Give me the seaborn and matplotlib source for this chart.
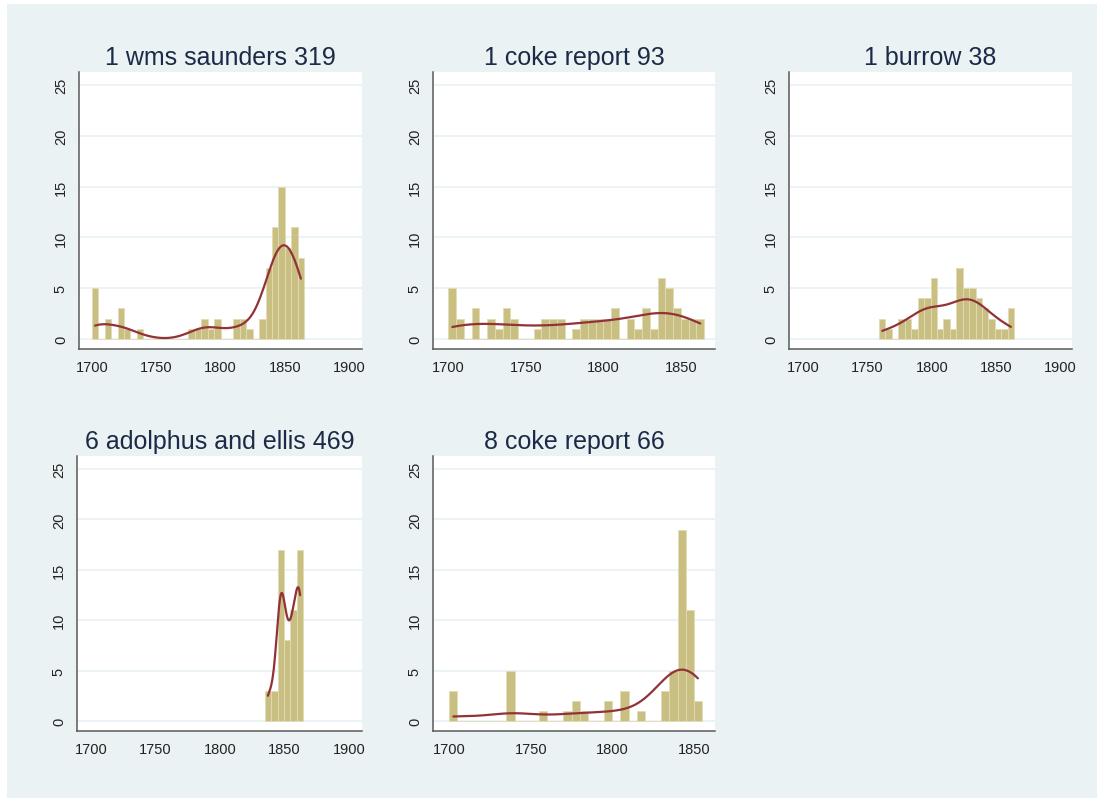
import numpy as np
import pandas as pd
import matplotlib
matplotlib.use('Agg')
import matplotlib.pyplot as plt
from matplotlib.patches import Rectangle
import seaborn as sns

# panel titles
titles = ['1 wms saunders 319', '1 coke report 93', '1 burrow 38',
          '6 adolphus and ellis 469', '8 coke report 66']

# 5 year bins, heights (percent)
saunders_start = 1700
saunders_pct = [5, 0, 2, 0, 3, 1, 0, 1, 0, 0, 0, 0, 0, 0, 0, 1, 1, 2, 1, 2,
                0, 0, 2, 2, 1, 0, 2, 7, 11, 15, 9, 11, 8]
coke1_start = 1700
coke1_pct = [5, 2, 0, 3, 0, 2, 1, 3, 2, 0, 0, 1, 2, 2, 2, 0, 1, 2, 2, 2,
             2, 3, 0, 2, 1, 3, 1, 6, 5, 3, 2, 2, 2]
burrow_start = 1759
burrow_pct = [2, 1, 0, 2, 2, 1, 4, 4, 6, 1, 2, 1, 7, 5, 5, 4, 3, 2, 1, 1, 3]
adolphus_start = 1834.5
adolphus_pct = [3, 3, 17, 8, 11, 17]
coke8_start = 1700
coke8_pct = [3, 0, 0, 0, 0, 0, 0, 5, 0, 0, 0, 1, 0, 0, 1, 2, 1, 0, 0, 2,
             0, 3, 0, 1, 0, 0, 3, 5, 19, 11, 2]

bin_width = 5
starts = [saunders_start, coke1_start, burrow_start, adolphus_start, coke8_start]
heights = [saunders_pct, coke1_pct, burrow_pct, adolphus_pct, coke8_pct]

# axis ranges / ticks
xlims = [(1690, 1910), (1690, 1872), (1689, 1909), (1689, 1910), (1690, 1863)]
xticks = [[1700, 1750, 1800, 1850, 1900], [1700, 1750, 1800, 1850],
          [1700, 1750, 1800, 1850, 1900], [1700, 1750, 1800, 1850, 1900],
          [1700, 1750, 1800, 1850]]
yticks = [0, 5, 10, 15, 20, 25]

# smoothing of the kernel density line per panel
bw_adjusts = [0.33, 0.65, 0.8, 0.52, 0.46]

# axes positions in pixels: left, top, right, bottom
W, H = 1104, 804
boxes = [(79, 73, 362, 350), (433, 73, 715, 350), (789, 73, 1072, 350),
         (77, 457, 362, 732), (433, 457, 715, 732)]

bar_color = '#C9BF83'
line_color = '#913238'
title_color = '#1C2A48'
bg_color = '#EAF2F3'

sns.set_style('white')
plt.rcParams['font.family'] = ['Liberation Sans', 'DejaVu Sans']

fig = plt.figure(figsize=(W / 100, H / 100), dpi=100)
fig.patch.set_facecolor('white')
fig.patches.append(Rectangle((7 / W, 5 / H), 1090 / W, 794 / H,
                             transform=fig.transFigure, facecolor=bg_color,
                             edgecolor='none', zorder=-10))

for i in range(5):
    l, t, r, b = boxes[i]
    ax = fig.add_axes([l / W, 1 - b / H, (r - l) / W, (b - t) / H])
    ax.set_facecolor('white')

    n = len(heights[i])
    df = pd.DataFrame({
        'year': starts[i] + bin_width / 2 + bin_width * np.arange(n),
        'pct': np.array(heights[i], dtype=float),
    })

    sns.histplot(data=df, x='year', weights='pct', binwidth=bin_width,
                 binrange=(starts[i], starts[i] + bin_width * n),
                 stat='count', kde=True,
                 kde_kws={'bw_adjust': bw_adjusts[i]},
                 line_kws={'lw': 1.6}, color=bar_color, alpha=1,
                 edgecolor='#E2DCB4', linewidth=0.6, ax=ax)
    ax.lines[-1].set_color(line_color)
    ax.lines[-1].set_zorder(5)

    ax.set_xlim(*xlims[i])
    ax.set_ylim(-1, 26.3)
    ax.set_xticks(xticks[i])
    ax.set_yticks(yticks)
    ax.set_xlabel('')
    ax.set_ylabel('')
    ax.set_title(titles[i], fontsize=18, color=title_color, pad=6)

    ax.yaxis.grid(True, color=bg_color, lw=1.3)
    ax.set_axisbelow(True)
    for s in ['top', 'right']:
        ax.spines[s].set_visible(False)
    for s in ['left', 'bottom']:
        ax.spines[s].set_color('#5A5A5A')
        ax.spines[s].set_linewidth(1.1)
    ax.tick_params(axis='both', direction='out', length=5, width=1,
                   color='#5A5A5A', labelsize=10.5, labelcolor='#222222',
                   pad=3)
    ax.tick_params(axis='y', labelrotation=90)
    for lbl in ax.get_yticklabels():
        lbl.set_verticalalignment('center')

fig.savefig('out.png', dpi=100)
